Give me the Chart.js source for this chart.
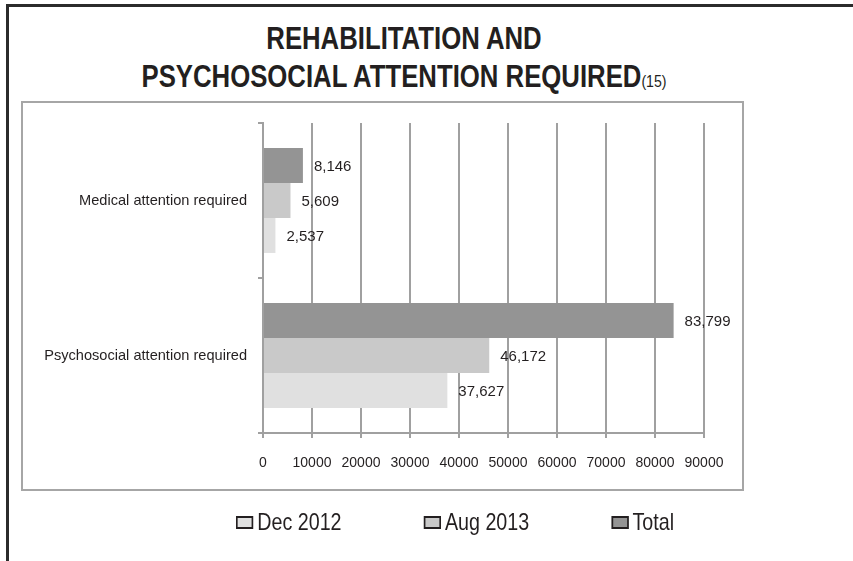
<!DOCTYPE html>
<html>
<head>
<meta charset="utf-8">
<script src="https://cdn.jsdelivr.net/npm/chart.js@4.4.1/dist/chart.umd.min.js"></script>
<style>
    body { margin: 0; background: #fff; }
    #page { position: relative; width: 853px; height: 561px; overflow: hidden; }
    #frame { position: absolute; left: 6px; top: 4px; width: 900px; height: 600px;
             border-top: 3px solid #2b2b2b; border-left: 3px solid #2b2b2b; }
    #plotbox { position: absolute; left: 21px; top: 101px; width: 719px; height: 386px;
               border: 2px solid #a6a6a6; }
    /* no narrow font installed, so squeeze Liberation Sans like Arial Narrow */
    #title { position: absolute; left: 0; top: 20px; width: 808px; text-align: center;
             font: bold 31px "Liberation Sans", Arial, sans-serif; line-height: 38px;
             color: #231f20; transform: scaleX(0.83); transform-origin: 404px 0; }
    #title span { font-weight: normal; font-size: 17px; }
    #legend { position: absolute; left: 236px; top: 510px; display: flex; align-items: center;
              font: 24px "Liberation Sans", Arial, sans-serif; line-height: 24px; color: #231f20;
              transform: scaleX(0.82); transform-origin: 0 0; white-space: nowrap; }
    #legend .item { display: flex; align-items: center; margin-right: 100px; }
    #legend .box { width: 21px; height: 13px; box-sizing: border-box; border: 2px solid #231f20;
                   border-left-width: 2.4px; border-right-width: 2.4px; margin-right: 5px; }
    canvas { position: absolute; left: 0; top: 0; }
</style>
</head>
<body>
<div id="page">
    <div id="frame"></div>
    <div id="plotbox"></div>
    <div id="title">REHABILITATION AND<br>PSYCHOSOCIAL ATTENTION REQUIRED<span>(15)</span></div>
    <canvas id="myChart" width="853" height="561"></canvas>
    <div id="legend"></div>
</div>
<script>
var categories = ['Medical attention required', 'Psychosocial attention required'];
var seriesNames = ['Total', 'Aug 2013', 'Dec 2012'];
var totalValues = [8146, 83799];
var aug2013Values = [5609, 46172];
var dec2012Values = [2537, 37627];
var xTicks = [0, 10000, 20000, 30000, 40000, 50000, 60000, 70000, 80000, 90000];

var textColor = '#231f20';
var lineColor = '#a0a0a0';
var fontName = '"Liberation Sans", Arial, sans-serif';

// value labels at the end of each bar
var valueLabels = {
    id: 'valueLabels',
    afterDatasetsDraw: function (chart) {
        var ctx = chart.ctx;
        ctx.save();
        ctx.font = '15px ' + fontName;
        ctx.fillStyle = textColor;
        ctx.textBaseline = 'middle';
        ctx.textAlign = 'left';
        chart.data.datasets.forEach(function (ds, i) {
            chart.getDatasetMeta(i).data.forEach(function (bar, j) {
                ctx.fillText(ds.data[j].toLocaleString('en-US'), bar.x + 11, bar.y + 1);
            });
        });
        ctx.restore();
    }
};

// html legend, built from the chart's own legend items (oldest series first)
var htmlLegend = {
    id: 'htmlLegend',
    afterUpdate: function (chart) {
        var box = document.getElementById('legend');
        box.innerHTML = '';
        var items = chart.options.plugins.legend.labels.generateLabels(chart).reverse();
        items.forEach(function (it) {
            var item = document.createElement('div');
            item.className = 'item';
            var sw = document.createElement('span');
            sw.className = 'box';
            sw.style.background = it.fillStyle;
            var txt = document.createElement('span');
            txt.textContent = it.text;
            item.appendChild(sw);
            item.appendChild(txt);
            box.appendChild(item);
        });
    }
};

var ctx = document.getElementById('myChart');

var myChart = new Chart(ctx, {
    type: 'bar',
    data: {
        labels: categories,
        datasets: [{
                label: seriesNames[0],
                data: totalValues,
                backgroundColor: '#949494'
            }, {
                label: seriesNames[1],
                data: aug2013Values,
                backgroundColor: '#c9c9c9'
            }, {
                label: seriesNames[2],
                data: dec2012Values,
                backgroundColor: '#e0e0e0'
            }]
    },
    options: {
        indexAxis: 'y',
        responsive: false,
        animation: false,
        layout: {padding: {top: 123, left: 0, right: 149, bottom: 78}},
        datasets: {bar: {categoryPercentage: 0.677, barPercentage: 1}},
        scales: {
            x: {
                min: 0,
                max: 90000,
                afterBuildTicks: function (s) {
                    s.ticks = xTicks.map(function (v) { return {value: v}; });
                },
                ticks: {
                    callback: function (v) { return String(v); },
                    color: textColor,
                    font: {family: fontName, size: 14},
                    padding: 17,
                    maxRotation: 0,
                    autoSkip: false
                },
                grid: {color: lineColor, lineWidth: 2, tickLength: 5},
                border: {color: lineColor, width: 2},
                afterFit: function (s) { s.height = 50; }
            },
            y: {
                grid: {offset: true, drawOnChartArea: false, color: lineColor, lineWidth: 2, tickLength: 5},
                border: {color: lineColor, width: 2},
                ticks: {color: textColor, font: {family: fontName, size: 14.6}, padding: 11},
                afterFit: function (s) { s.width = 263; }
            }
        },
        plugins: {
            legend: {display: false},
            tooltip: {enabled: false}
        }
    },
    plugins: [valueLabels, htmlLegend]
});
</script>
</body>
</html>
